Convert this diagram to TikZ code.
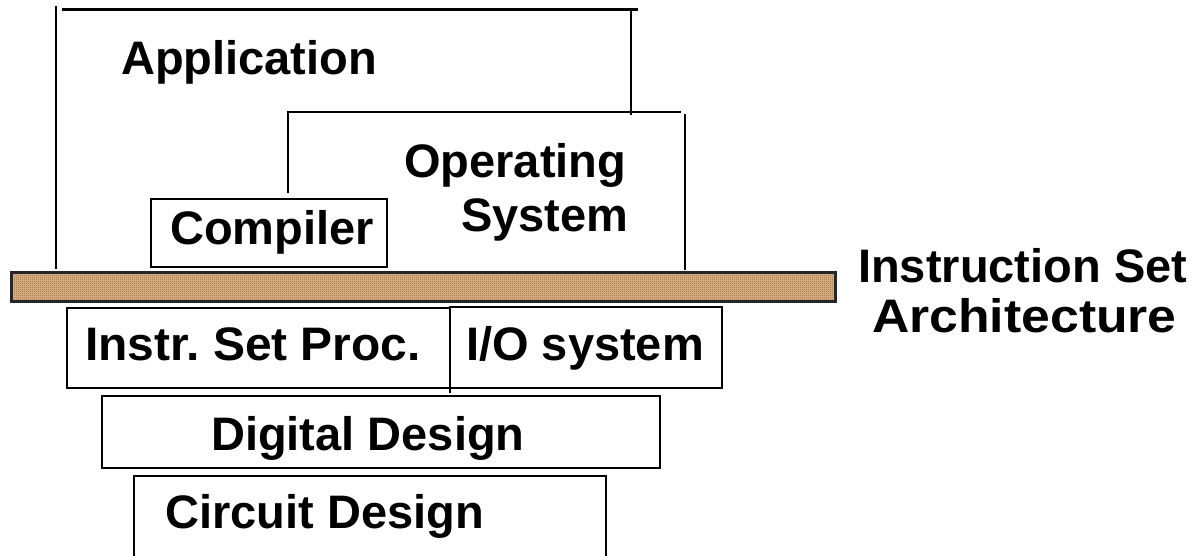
\documentclass[tikz,border=0pt]{standalone}
\usepackage{fontspec}
\usepackage{graphicx}
\setmainfont{Liberation Sans}
\frenchspacing
\usetikzlibrary{patterns}
\definecolor{isabrown}{RGB}{150,95,45}
\definecolor{isalight}{RGB}{218,184,146}
\pgfdeclarepatternformonly{finechecker}{\pgfpointorigin}{\pgfqpoint{2pt}{2pt}}{\pgfqpoint{2pt}{2pt}}{%
  \pgfpathrectangle{\pgfpointorigin}{\pgfqpoint{1pt}{1pt}}%
  \pgfpathrectangle{\pgfqpoint{1pt}{1pt}}{\pgfqpoint{1pt}{1pt}}%
  \pgfusepath{fill}}
\newcommand\lbfont{\fontsize{47}{54}\selectfont\bfseries\frenchspacing}
\tikzset{
  edge/.style={line width=2.2pt, black},
  lbl/.style={inner sep=0pt, anchor=base west, font=\lbfont},
}
\begin{document}
\begin{tikzpicture}[x=1pt,y=-1pt]
\useasboundingbox (0,0) rectangle (1195,556);
\fill[white] (0,0) rectangle (1195,556);
% coordinates
\coordinate (appBL) at (56,269);
\coordinate (appTL) at (56,6);
\coordinate (appTopL) at (62,9.5);
\coordinate (appTopR) at (638,9.5);
\coordinate (appRT) at (631,9.5);
\coordinate (appRB) at (631,115);
\coordinate (osTL) at (288,112);
\coordinate (osTR) at (681,112);
\coordinate (osLB) at (288,193);
\coordinate (osRT) at (685,114);
\coordinate (osRB) at (685,270);
% Application frame
\draw[edge] (appTL) -- (appBL);
\draw[edge] (appTopL) -- (appTopR);
\draw[edge] (appRT) -- (appRB);
% Operating system frame
\draw[edge] (osLB) -- (osTL) -- (osTR);
\draw[edge] (osRT) -- (osRB);
% Compiler box
\draw[edge] (151,199) rectangle (387,267);
% ISA bar
\fill[isalight] (11,273) rectangle (835,302);
\fill[pattern=finechecker, pattern color=isabrown] (11,273) rectangle (835,302);
\draw[line width=3pt, black!85] (11,273) rectangle (835,302);
% lower boxes
\draw[edge] (67,308) rectangle (450,388);
\draw[edge] (450,388) -- (450,393);
\draw[edge] (450,307) rectangle (722,388);
\draw[edge] (102,396) rectangle (660,468);
\draw[edge] (134,560) -- (134,476) -- (606,476) -- (606,560);
% labels
\node[lbl] (app) at (121,75) {Application};
\node[lbl] (os1) at (404,178) {Operating};
\node[lbl] (os2) at (461,232) {System};
\node[lbl] (comp) at (170,245) {Compiler};
\node[lbl] (isa1) at (858,283) {Instruction Set};
\node[lbl] (isa2) at (872,333) {\scalebox{1.1}[1]{Architecture}};
\node[lbl] (isp) at (85,360) {\scalebox{1.02}[1]{Instr. Set Proc.}};
\node[lbl] (io) at (466,360) {I/O system};
\node[lbl] (dd) at (211,450) {Digital Design};
\node[lbl] (cd) at (165,528) {Circuit Design};
\end{tikzpicture}
\end{document}
